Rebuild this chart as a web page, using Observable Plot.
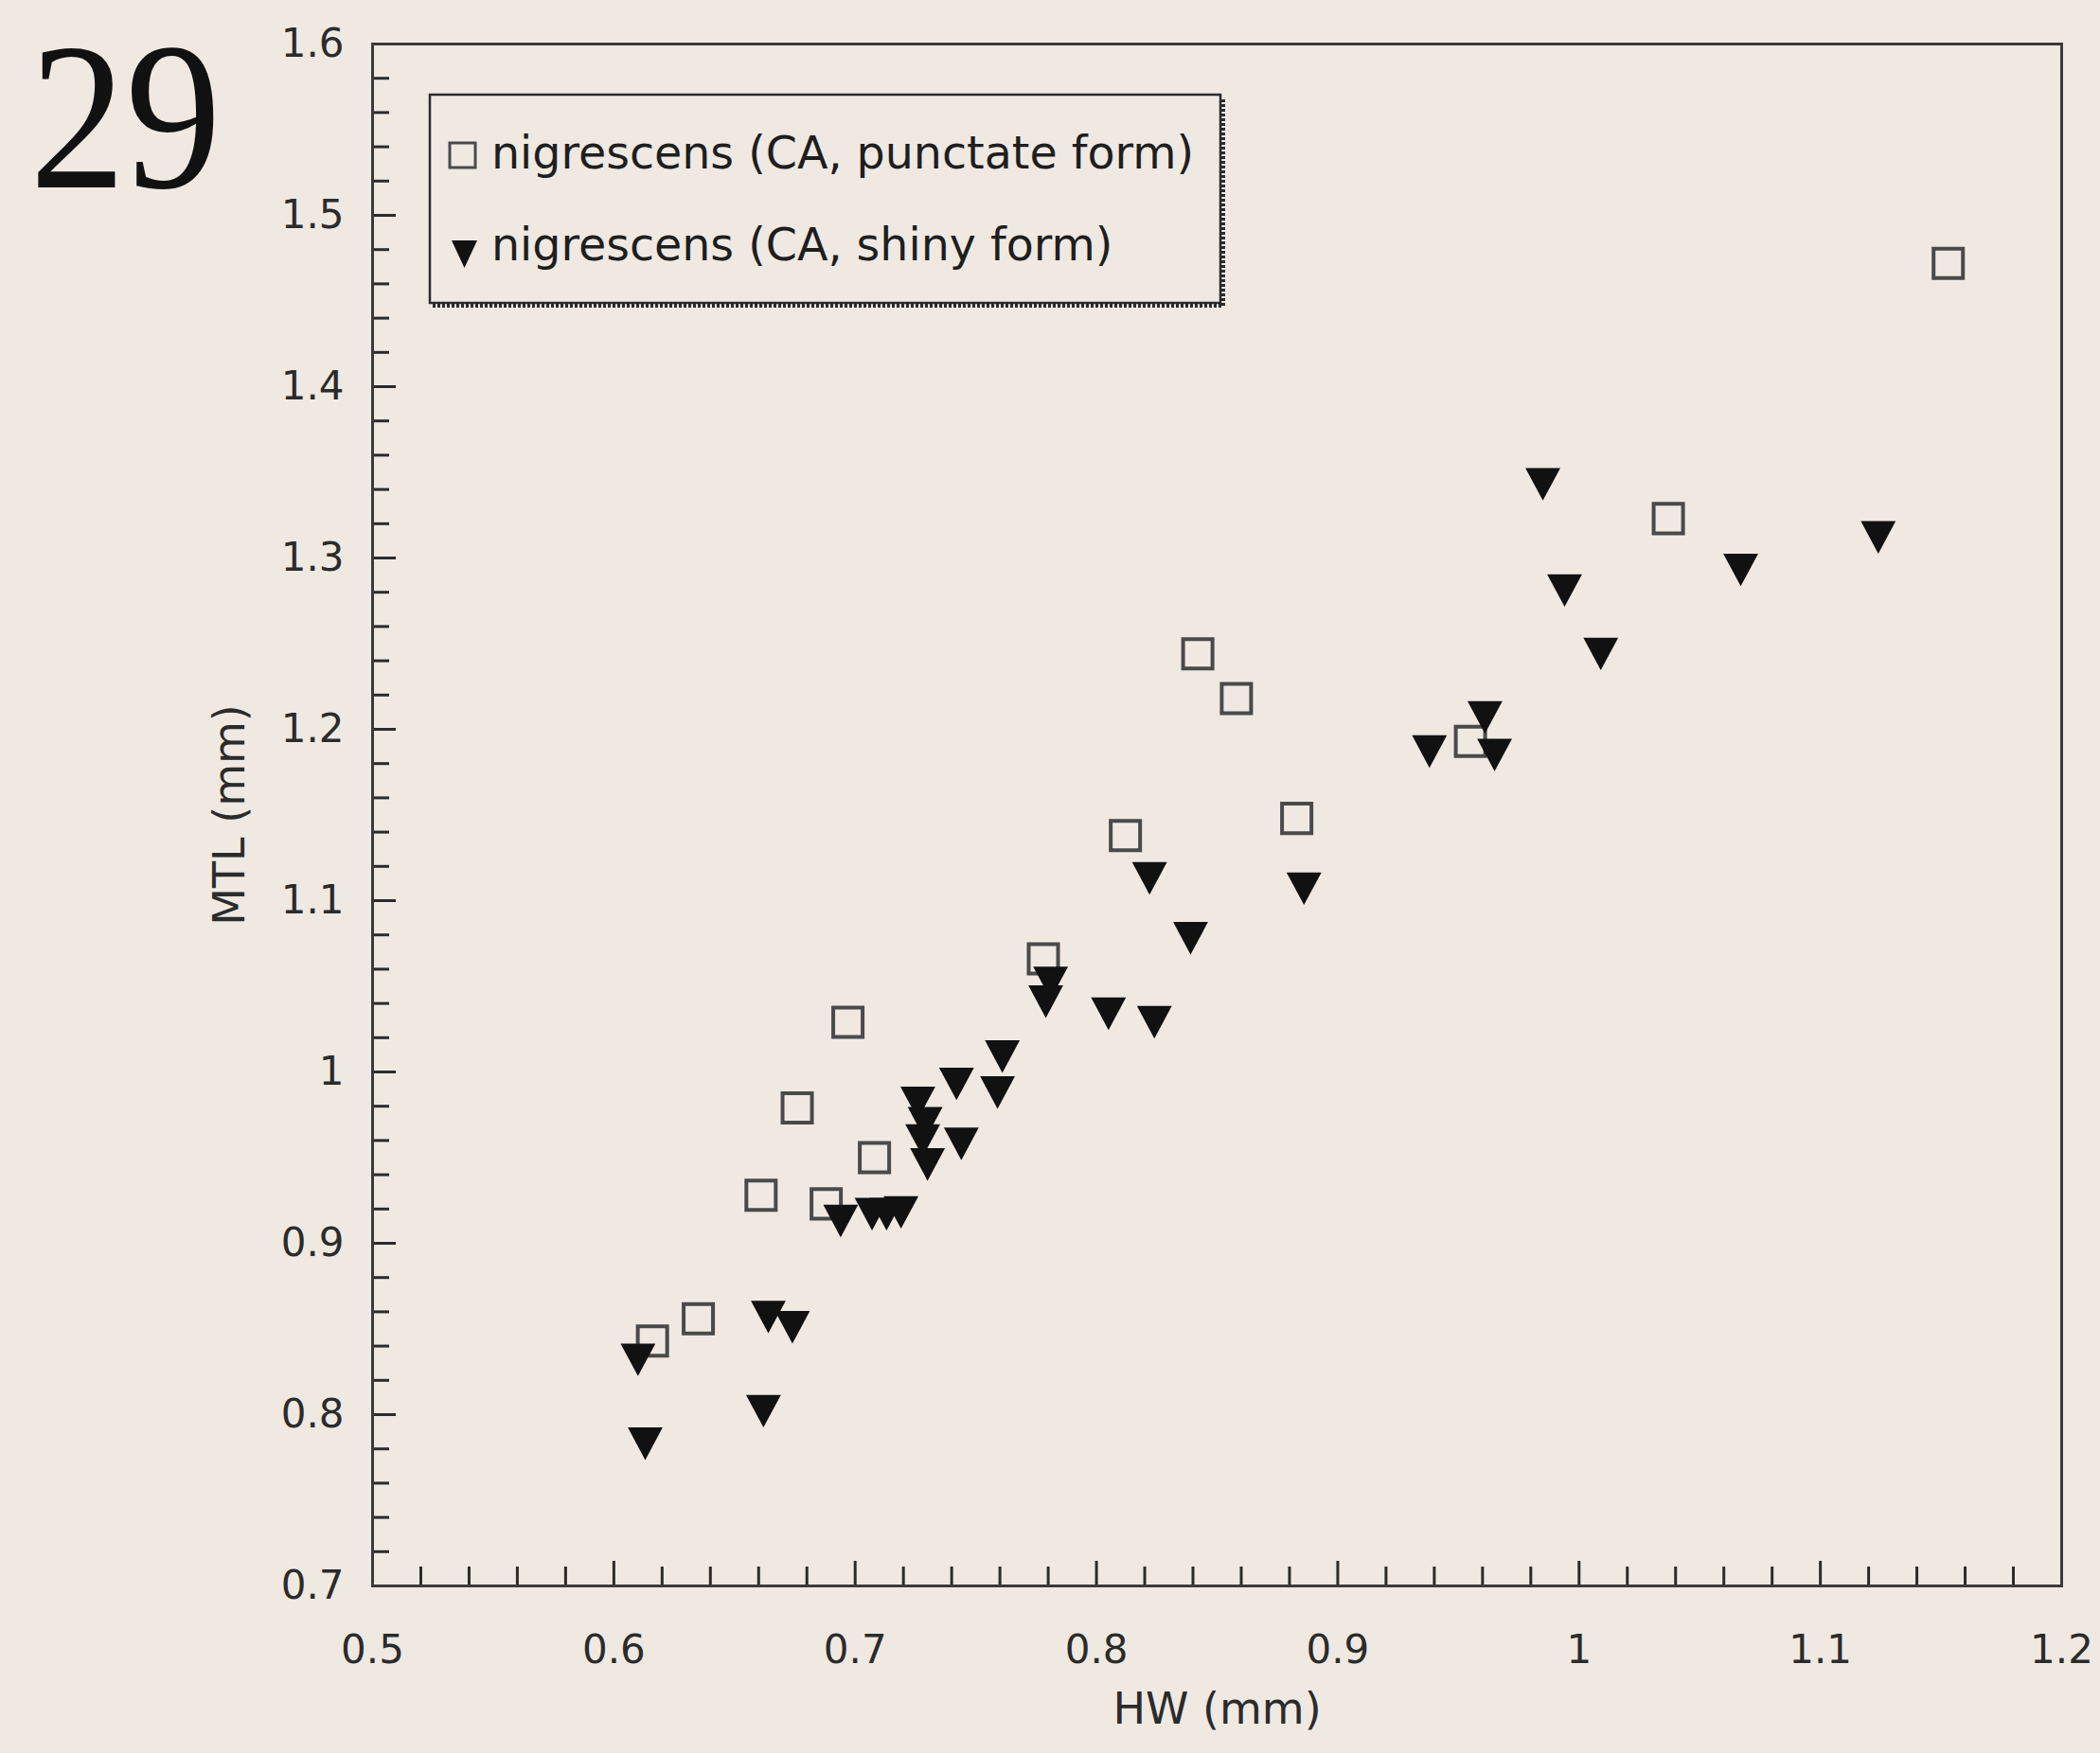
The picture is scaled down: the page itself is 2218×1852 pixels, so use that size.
<!DOCTYPE html>
<html>
<head>
<meta charset="utf-8">
<script src="https://cdn.jsdelivr.net/npm/d3@7"></script>
<script src="https://cdn.jsdelivr.net/npm/@observablehq/plot@0.6"></script>
<style>
  html, body { margin: 0; padding: 0; background: #efe9e2; }
  #chart svg { display: block; }
</style>
</head>
<body>
<div id="chart"></div>
<script>
// ---- data ----
const punctateHW  = [1.153, 1.037, 0.842, 0.858, 0.955, 0.883, 0.812, 0.778, 0.697, 0.676, 0.708, 0.661, 0.688, 0.635, 0.616];
const punctateMTL = [1.472, 1.323, 1.244, 1.218, 1.193, 1.148, 1.138, 1.066, 1.029, 0.979, 0.950, 0.928, 0.923, 0.856, 0.843];

const shinyHW  = [0.985, 1.124, 1.067, 0.994, 1.009, 0.961, 0.938, 0.965, 0.822, 0.886, 0.839, 0.781, 0.779, 0.805, 0.824, 0.761,
                  0.742, 0.759, 0.726, 0.729, 0.728, 0.744, 0.730, 0.694, 0.707, 0.713, 0.719, 0.664, 0.674, 0.610, 0.662, 0.613];
const shinyMTL = [1.343, 1.312, 1.293, 1.281, 1.244, 1.207, 1.187, 1.185, 1.113, 1.107, 1.078, 1.052, 1.041, 1.034, 1.029, 1.009,
                  0.993, 0.988, 0.982, 0.970, 0.960, 0.958, 0.946, 0.913, 0.917, 0.917, 0.918, 0.857, 0.851, 0.832, 0.802, 0.783];

const seriesNames = ["nigrescens (CA, punctate form)", "nigrescens (CA, shiny form)"];
const xTicks = [0.5, 0.6, 0.7, 0.8, 0.9, 1, 1.1, 1.2];
const yTicks = [0.7, 0.8, 0.9, 1, 1.1, 1.2, 1.3, 1.4, 1.5, 1.6];
const xTitle = "HW (mm)";
const yTitle = "MTL (mm)";
const figureNumber = "29";

// ---- derived tables ----
const punctate = punctateHW.map((x, i) => ({x, y: punctateMTL[i]}));
const shiny = shinyHW.map((x, i) => ({x, y: shinyMTL[i]}));
const xMinor = d3.range(26, 60).map(i => i / 50).filter(v => Math.abs(v * 10 - Math.round(v * 10)) > 1e-6);
const xMajor = xTicks.slice(1, -1);
const yMinor = d3.range(36, 80).map(i => i / 50).filter(v => Math.abs(v * 10 - Math.round(v * 10)) > 1e-6);
const yMajor = yTicks.slice(1, -1);

const W = 2218, H = 1852;
const mL = 393, mR = 41, mT = 46, mB = 177;
const plotW = W - mL - mR, plotH = H - mT - mB;
const ink = "#2b2b2b";
const bg = "#efe9e2";

const triDown = {
  draw(ctx, size) {
    const s = Math.sqrt(size);
    const w = s * 1.05, h = s * 0.98;
    ctx.moveTo(-w / 2, -h / 2);
    ctx.lineTo(w / 2, -h / 2);
    ctx.lineTo(0, h / 2);
    ctx.closePath();
  }
};

const fmt = d => String(+d.toFixed(1));

const chart = Plot.plot({
  width: W, height: H,
  marginLeft: mL, marginRight: mR, marginTop: mT, marginBottom: mB,
  style: {fontFamily: "DejaVu Sans", fontSize: "42px", color: ink, background: bg},
  x: {domain: [0.5, 1.2]},
  y: {domain: [0.7, 1.6]},
  marks: [
    // inward ticks
    Plot.ruleX(xMinor, {x: d => d, insetTop: plotH - 20, stroke: ink, strokeWidth: 3}),
    Plot.ruleX(xMajor, {x: d => d, insetTop: plotH - 26, stroke: ink, strokeWidth: 3}),
    Plot.ruleY(yMinor, {y: d => d, insetRight: plotW - 18, stroke: ink, strokeWidth: 3}),
    Plot.ruleY(yMajor, {y: d => d, insetRight: plotW - 25, stroke: ink, strokeWidth: 3}),
    Plot.frame({stroke: "#3a3a3a", strokeWidth: 3}),
    Plot.axisX({ticks: xTicks, tickSize: 0, tickPadding: 52, tickFormat: fmt, fontSize: 42, label: null}),
    Plot.axisY({ticks: yTicks, tickSize: 0, tickPadding: 30, tickFormat: fmt, fontSize: 42, label: null}),
    Plot.text([xTitle], {text: d => d, frameAnchor: "bottom", textAnchor: "middle", lineAnchor: "middle",
      dy: 131, fontSize: 46, fill: ink}),
    Plot.text([yTitle], {text: d => d, frameAnchor: "left", textAnchor: "middle", lineAnchor: "middle",
      rotate: -90, dx: -150, fontSize: 46, fill: ink}),
    Plot.text([figureNumber], {text: d => d, frameAnchor: "top-left", dx: -362, dy: 151, textAnchor: "start",
      lineAnchor: "bottom", fontFamily: "Liberation Serif", fontSize: 222, fill: "#111", className: "fignum"}),
    // data
    Plot.dot(punctate, {x: "x", y: "y", symbol: "square", r: 17.5, stroke: "#4a4a4a", strokeWidth: 4, fill: "none"}),
    Plot.dot(shiny, {x: "x", y: "y", symbol: triDown, r: 19.8, fill: "#111", stroke: "none"})
  ]
});

document.getElementById("chart").appendChild(chart);

const svg = d3.select(chart);
// the scanned figure number is a little narrower than the font
svg.selectAll(".fignum text").each(function () {
  const t = d3.select(this);
  t.attr("transform", (t.attr("transform") || "") + " scale(0.91,1)");
});

// ---- legend (inside the plot, top-left) ----
const lg = svg.append("g").attr("text-anchor", "start");
const bx = 454, by = 100, bw = 835, bh = 220;
lg.append("path")
  .attr("d", `M${bx + 3},${by + bh + 3}H${bx + bw + 3}V${by + 4}`)
  .attr("fill", "none").attr("stroke", ink).attr("stroke-width", 4).attr("stroke-dasharray", "3,2");
lg.append("rect")
  .attr("x", bx).attr("y", by).attr("width", bw).attr("height", bh)
  .attr("fill", bg).attr("stroke", ink).attr("stroke-width", 2.5);
lg.append("rect")
  .attr("x", 475).attr("y", 151).attr("width", 27).attr("height", 26)
  .attr("fill", "none").attr("stroke", "#4a4a4a").attr("stroke-width", 3);
lg.append("path")
  .attr("d", "M477,254L504,254L490.5,283Z").attr("fill", "#111");
lg.selectAll("text.lg").data(seriesNames).join("text")
  .attr("class", "lg")
  .attr("text-anchor", "start")
  .attr("x", 519).attr("y", (d, i) => i === 0 ? 178 : 275)
  .attr("font-family", "DejaVu Sans").attr("font-size", 47.5).attr("fill", "#1e1e1e")
  .text(d => d);
</script>
</body>
</html>
